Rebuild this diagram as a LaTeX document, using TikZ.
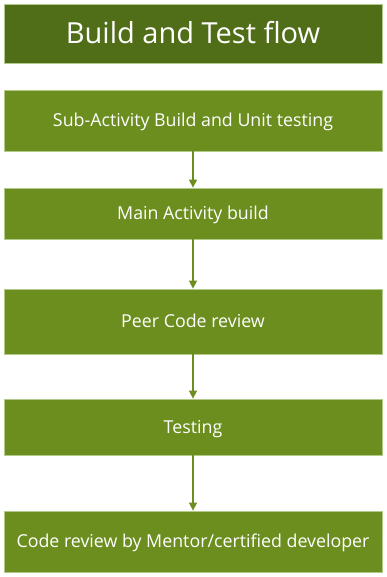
\documentclass[tikz,border=0pt]{standalone}
\usepackage{fontspec}
\setmainfont{Open Sans}
\usetikzlibrary{arrows.meta}
\definecolor{titlegreen}{HTML}{506D17}
\definecolor{boxgreen}{HTML}{6B8E1F}
\definecolor{edgegreen}{HTML}{B3C98A}
\begin{document}
\begin{tikzpicture}[x=1pt,y=-1pt,
  titlebox/.style={fill=titlegreen,draw=edgegreen,line width=0.8pt,minimum width=378pt,inner sep=0pt,text=white,text height=20.7pt,text depth=0pt,font=\fontsize{29}{34}\selectfont},
  stepbox/.style={fill=boxgreen,draw=edgegreen,line width=0.8pt,minimum width=378pt,inner sep=0pt,text=white,text height=12.7pt,text depth=0pt,font=\fontsize{17.8}{21}\selectfont},
  flow/.style={draw=boxgreen,line width=1.5pt,-{Triangle[length=8pt,width=8pt]}}]
\useasboundingbox (0,0) rectangle (386,577);
\node[titlebox,minimum height=59pt] (title) at (193,33.5) {Build and Test flow};
\node[stepbox,minimum height=61pt] (s1) at (193,120.5) {Sub-Activity Build and Unit testing};
\node[stepbox,minimum height=51pt] (s2) at (193,213.5) {Main Activity build};
\node[stepbox,minimum height=65pt] (s3) at (193,321.5) {Peer Code review};
\node[stepbox,minimum height=56pt] (s4) at (193,427) {Testing};
\node[stepbox,minimum height=61pt] (s5) at (193,541.5) {Code review by Mentor/certified developer};
\draw[flow] (s1) -- (s2);
\draw[flow] (s2) -- (s3);
\draw[flow] (s3) -- (s4);
\draw[flow] (s4) -- (s5);
\end{tikzpicture}
\end{document}
